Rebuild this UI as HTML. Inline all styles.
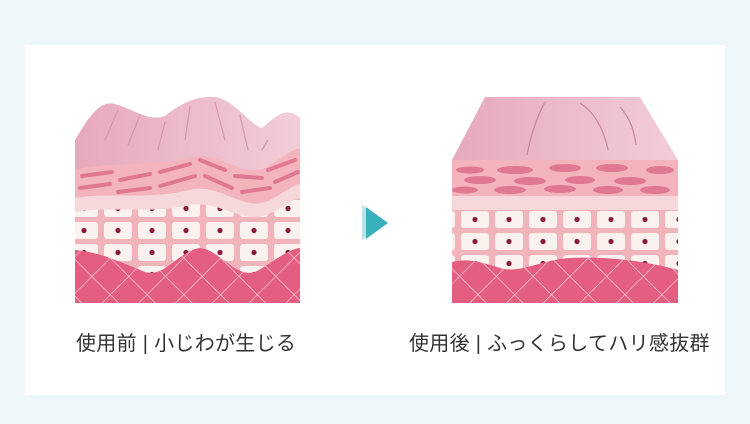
<!DOCTYPE html>
<html><head><meta charset="utf-8"><style>
html,body{margin:0;padding:0;}
body{width:750px;height:424px;background:#eef7fa;position:relative;overflow:hidden;font-family:"Liberation Sans","Noto Sans CJK JP",sans-serif;}
.card{position:absolute;left:25px;top:45px;width:700px;height:350px;background:#fff;}
.lbl{position:absolute;top:327px;font-size:20px;color:#333;white-space:nowrap;letter-spacing:0.3px}
svg{position:absolute;left:0;top:0}
</style></head><body>
<div class="card"></div>
<svg width="750" height="424" viewBox="0 0 750 424">
<defs>
<pattern id="cells" width="34" height="22" patternUnits="userSpaceOnUse">
<rect width="34" height="22" fill="#f2b4bb"/>
<rect x="2" y="2" width="28" height="17" rx="3" fill="#fbf1ef"/>
<circle cx="16" cy="10.5" r="2.6" fill="#8a1a3c"/>
</pattern>
<pattern id="cells2" width="34" height="22" patternUnits="userSpaceOnUse" x="17" y="11">
<rect width="34" height="22" fill="#f2b4bb"/>
<rect x="2" y="2" width="28" height="17" rx="3" fill="#fbf1ef"/>
<circle cx="16" cy="10.5" r="2.6" fill="#8a1a3c"/>
</pattern>
<pattern id="derm" width="26" height="26" patternUnits="userSpaceOnUse" patternTransform="rotate(45)">
<rect width="26" height="26" fill="#e35e80"/>
<path d="M0 0H26M0 0V26" stroke="#f8c8d2" stroke-width="1.4"/>
</pattern>
<linearGradient id="top" x1="0" y1="0" x2="1" y2="0">
<stop offset="0" stop-color="#e6a9bd"/><stop offset="1" stop-color="#f2cdd8"/>
</linearGradient>
<clipPath id="cl"><rect x="75" y="80" width="225" height="223"/></clipPath>
<clipPath id="cr"><rect x="452" y="80" width="226" height="223"/></clipPath>
</defs>
<g clip-path="url(#cl)">
<path d="M75 140 C90 115 100 100 115 104 C135 110 150 122 165 116 C180 104 195 96 215 97 C235 100 250 125 262 128 C275 118 285 105 300 118 V303 H75Z" fill="url(#top)"/>
<path d="M75 170 C110 160 150 168 190 158 C220 150 240 178 265 168 C280 160 290 150 300 148 V303 H75Z" fill="#f3b4bd"/>
<g stroke="#e07892" stroke-width="4" stroke-linecap="round" fill="none">
<path d="M82 176 L112 172 M120 180 L150 174 M160 172 L190 164 M200 160 L225 170 M235 176 L262 178 M268 170 L295 160"/>
<path d="M80 188 L110 184 M118 192 L150 188 M160 186 L195 176 M205 176 L232 188 M242 192 L270 188 M275 182 L298 172"/>
</g>
<path d="M75 198 C110 192 150 200 190 190 C220 182 245 214 270 200 C285 192 292 186 300 184 V303 H75Z" fill="url(#cells)"/>
<path d="M75 198 C110 192 150 200 190 190 C220 182 245 214 270 200 C285 192 292 186 300 184 L300 198 C290 200 280 210 268 214 C245 226 220 200 190 205 C150 214 110 206 75 212Z" fill="#f6d8da"/>
<path d="M75 250 C100 252 120 262 145 272 C165 278 180 250 200 248 C220 250 235 278 255 272 C270 265 285 250 300 248 V303 H75Z" fill="url(#derm)"/>
<g stroke="#d79aab" stroke-width="1.3" fill="none">
<path d="M118 110 L105 140 M140 115 L128 145 M165 122 L158 150 M190 106 L185 140 M215 102 L225 140 M240 115 L248 150 M268 140 L262 150"/>
</g>
</g>
<g clip-path="url(#cr)">
<path d="M485 97 L640 97 L678 160 V303 H452 V160Z" fill="url(#top)"/>
<rect x="452" y="160" width="226" height="143" fill="#f3b4bd"/>
<g fill="#e07892">
<ellipse cx="470" cy="170" rx="14" ry="3.5"/><ellipse cx="515" cy="170" rx="18" ry="4"/><ellipse cx="565" cy="168" rx="16" ry="4"/><ellipse cx="612" cy="168" rx="16" ry="4"/><ellipse cx="660" cy="170" rx="14" ry="4"/>
<ellipse cx="480" cy="180" rx="16" ry="4"/><ellipse cx="530" cy="181" rx="16" ry="4"/><ellipse cx="580" cy="180" rx="15" ry="4"/><ellipse cx="630" cy="181" rx="16" ry="4"/>
<ellipse cx="465" cy="190" rx="13" ry="3.5"/><ellipse cx="510" cy="190" rx="16" ry="4"/><ellipse cx="560" cy="189" rx="16" ry="4"/><ellipse cx="608" cy="190" rx="15" ry="4"/><ellipse cx="655" cy="190" rx="15" ry="4"/>
</g>
<rect x="452" y="196" width="226" height="14" fill="#f6d8da"/>
<rect x="452" y="210" width="226" height="60" fill="url(#cells2)"/>
<path d="M452 262 C470 258 480 262 500 268 C520 274 540 260 570 258 C610 256 650 262 678 270 V303 H452Z" fill="url(#derm)"/>
<g stroke="#c98a9c" stroke-width="1.3" fill="none">
<path d="M545 102 C535 120 530 140 527 155 M580 103 C598 115 605 135 608 150 M620 107 C630 118 634 130 636 145"/>
</g>
</g>
<polygon points="362,205 362,240 368,236 368,209" fill="#bfe0e6"/>
<polygon points="366,207 366,239 388,223" fill="#3bb0bd"/>
</svg>
<div class="lbl" style="left:76px">使用前 | 小じわが生じる</div>
<div class="lbl" style="left:409px">使用後 | ふっくらしてハリ感抜群</div>
</body></html>
